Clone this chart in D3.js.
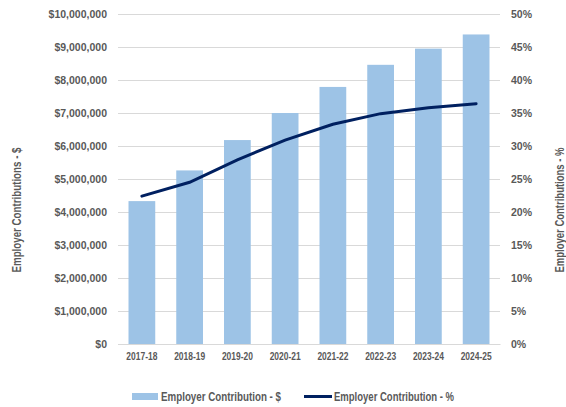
<!DOCTYPE html>
<html>
<head>
<meta charset="utf-8">
<script src="https://cdn.jsdelivr.net/npm/d3@7"></script>
<style>
  body { margin: 0; background: #fff; }
  text { fill: #595959; }
</style>
</head>
<body>
<div id="wrapper"></div>
<script>
// data
const years = ["2017-18", "2018-19", "2019-20", "2020-21", "2021-22", "2022-23", "2023-24", "2024-25"]
const contribDollars = [4330000, 5260000, 6180000, 7000000, 7790000, 8460000, 8950000, 9380000]
const contribPct = [0.224, 0.245, 0.279, 0.309, 0.333, 0.349, 0.358, 0.364]
const dollarTicks = [0, 1e6, 2e6, 3e6, 4e6, 5e6, 6e6, 7e6, 8e6, 9e6, 10e6]
const pctTicks = [0, 0.05, 0.10, 0.15, 0.20, 0.25, 0.30, 0.35, 0.40, 0.45, 0.50]

let dimensions = {
    width: 566,
    height: 407,
    margin: { top: 14, right: 66, bottom: 63, left: 118 }
}
dimensions.boundedWidth = dimensions.width - dimensions.margin.left - dimensions.margin.right
dimensions.boundedHeight = dimensions.height - dimensions.margin.top - dimensions.margin.bottom

// no narrow face installed, so squeeze the normal one with textLength
const sans = "'Liberation Sans', Arial, sans-serif"

const wrapper = d3.select("#wrapper")
    .append("svg")
        .attr("width", dimensions.width)
        .attr("height", dimensions.height)

const bounds = wrapper.append("g")
    .attr("transform", `translate(${dimensions.margin.left},${dimensions.margin.top})`)

// scales
const xScale = d3.scaleBand()
    .domain(years)
    .range([0, dimensions.boundedWidth])
    .paddingInner(0.44)
    .paddingOuter(0.22)

const yScale = d3.scaleLinear()
    .domain([0, 10e6])
    .range([dimensions.boundedHeight, 0])

const pctScale = d3.scaleLinear()
    .domain([0, 0.5])
    .range([dimensions.boundedHeight, 0])

// gridlines
bounds.append("g")
    .selectAll("line")
    .data(dollarTicks)
    .join("line")
        .attr("x1", 0)
        .attr("x2", dimensions.boundedWidth)
        .attr("y1", d => Math.round(yScale(d)) + 0.5)
        .attr("y2", d => Math.round(yScale(d)) + 0.5)
        .attr("stroke", "#d9d9d9")
        .attr("stroke-width", 1)

// bars
bounds.append("g")
    .selectAll("rect")
    .data(years)
    .join("rect")
        .attr("x", d => xScale(d))
        .attr("width", xScale.bandwidth())
        .attr("y", (d, i) => yScale(contribDollars[i]))
        .attr("height", (d, i) => dimensions.boundedHeight - yScale(contribDollars[i]))
        .attr("fill", "#9dc3e6")

// line
const lineGenerator = d3.line()
    .x((d, i) => xScale(years[i]) + xScale.bandwidth() / 2)
    .y(d => pctScale(d))

bounds.append("path")
    .attr("d", lineGenerator(contribPct))
    .attr("fill", "none")
    .attr("stroke", "#002060")
    .attr("stroke-width", 3)
    .attr("stroke-linecap", "round")

// axes
const yAxisGenerator = d3.axisLeft(yScale)
    .tickValues(dollarTicks)
    .tickSize(0)
    .tickPadding(11)
    .tickFormat(d => "$" + d3.format(",")(d))

const yAxis = bounds.append("g").call(yAxisGenerator)
yAxis.select(".domain").remove()
yAxis.selectAll("text")
    .style("font-family", sans)
    .style("font-size", "10.5px")
    .style("font-weight", "bold")
    .attr("fill", "#595959")

const pctAxisGenerator = d3.axisRight(pctScale)
    .tickValues(pctTicks)
    .tickSize(0)
    .tickPadding(11)
    .tickFormat(d3.format(".0%"))

const pctAxis = bounds.append("g")
    .attr("transform", `translate(${dimensions.boundedWidth},0)`)
    .call(pctAxisGenerator)
pctAxis.select(".domain").remove()
pctAxis.selectAll("text")
    .style("font-family", sans)
    .style("font-size", "10.5px")
    .style("font-weight", "bold")
    .attr("fill", "#595959")

const xAxisGenerator = d3.axisBottom(xScale)
    .tickSize(0)
    .tickPadding(9)

const xAxis = bounds.append("g")
    .attr("transform", `translate(0,${dimensions.boundedHeight})`)
    .call(xAxisGenerator)
xAxis.select(".domain").attr("stroke", "#d9d9d9")
xAxis.selectAll("text")
    .style("font-family", sans)
    .style("font-size", "10px")
    .style("font-weight", "bold")
    .attr("fill", "#595959")
    .attr("textLength", 31)
    .attr("lengthAdjust", "spacingAndGlyphs")

// axis titles
const titleStyle = sel => sel
    .attr("text-anchor", "middle")
    .style("font-family", sans)
    .style("font-size", "12px")
    .style("font-weight", "bold")
    .attr("textLength", 125)
    .attr("lengthAdjust", "spacingAndGlyphs")

wrapper.append("text")
    .attr("transform", `translate(21,210) rotate(-90)`)
    .call(titleStyle)
    .text("Employer Contributions - $")

wrapper.append("text")
    .attr("transform", `translate(564,210) rotate(-90)`)
    .call(titleStyle)
    .text("Employer Contributions - %")

// legend
const legendStyle = sel => sel
    .style("font-family", sans)
    .style("font-size", "12px")
    .style("font-weight", "bold")
    .attr("textLength", 120)
    .attr("lengthAdjust", "spacingAndGlyphs")

const legend = wrapper.append("g").attr("transform", "translate(0,397)")
legend.append("rect")
    .attr("x", 132).attr("y", -4)
    .attr("width", 26).attr("height", 7)
    .attr("fill", "#9dc3e6")
legend.append("text")
    .attr("x", 161).attr("y", 4)
    .call(legendStyle)
    .text("Employer Contribution - $")
legend.append("line")
    .attr("x1", 304).attr("x2", 332)
    .attr("y1", -0.5).attr("y2", -0.5)
    .attr("stroke", "#002060")
    .attr("stroke-width", 3)
legend.append("text")
    .attr("x", 334).attr("y", 4)
    .call(legendStyle)
    .text("Employer Contribution - %")
</script>
</body>
</html>
